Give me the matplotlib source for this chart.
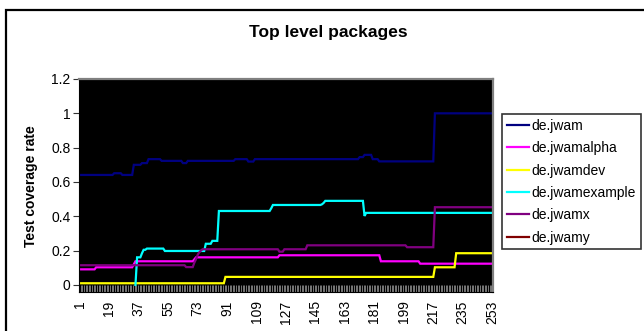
import numpy as np
import matplotlib
matplotlib.use("Agg")
import matplotlib.pyplot as plt
from matplotlib.lines import Line2D
from matplotlib.patches import Rectangle

plt.rcParams['font.family'] = ['Liberation Sans', 'DejaVu Sans']

# Number of measurement points (category axis 1..N)
N = 253

# Coverage per package, given as (first category, value) step points
jwam_steps = [(1, 0.641), (22, 0.651), (27, 0.641), (34, 0.70), (39, 0.71),
              (43, 0.733), (51, 0.723), (64, 0.71), (67, 0.723), (96, 0.733),
              (104, 0.719), (108, 0.733), (172, 0.745), (175, 0.758),
              (180, 0.733), (184, 0.72), (218, 1.0)]
jwamalpha_steps = [(1, 0.091), (11, 0.103), (34, 0.12), (35, 0.138),
                   (71, 0.15), (72, 0.161), (123, 0.173), (185, 0.138),
                   (209, 0.124)]
jwamdev_steps = [(1, 0.01), (90, 0.047), (218, 0.103), (231, 0.185)]
jwamexample_steps = [(35, 0.0), (36, 0.161), (39, 0.185), (40, 0.205),
                     (42, 0.212), (53, 0.198), (78, 0.24), (82, 0.257),
                     (86, 0.431), (118, 0.447), (119, 0.466), (149, 0.47),
                     (150, 0.478), (151, 0.49), (175, 0.402), (176, 0.42)]
jwamx_steps = [(1, 0.115), (66, 0.104), (71, 0.13), (72, 0.15), (73, 0.175),
               (74, 0.19), (75, 0.2), (76, 0.208), (123, 0.194), (126, 0.208),
               (140, 0.231), (201, 0.22), (218, 0.453)]
jwamy_steps = []

series_names = ["de.jwam", "de.jwamalpha", "de.jwamdev", "de.jwamexample",
                "de.jwamx", "de.jwamy"]
series_colors = ["#000080", "#FF00FF", "#FFFF00", "#00FFFF", "#800080",
                 "#800000"]
series_steps = [jwam_steps, jwamalpha_steps, jwamdev_steps, jwamexample_steps,
                jwamx_steps, jwamy_steps]

xtick_labels = [str(v) for v in range(1, N + 1, 18)]
ytick_values = [0, 0.2, 0.4, 0.6, 0.8, 1.0, 1.2]
ytick_labels = ["0", "0.2", "0.4", "0.6", "0.8", "1", "1.2"]


def expand(steps, n):
    """Turn (start, value) step points into one value per category."""
    out = np.full(n, np.nan)
    for k, (start, val) in enumerate(steps):
        end = steps[k + 1][0] if k + 1 < len(steps) else n + 1
        out[start - 1:end - 1] = val
    return out


cats = np.arange(1, N + 1)

fig = plt.figure(figsize=(6.44, 3.31), dpi=100)
fig.patch.set_facecolor('white')

# chart frame
fig.add_artist(Rectangle((6 / 644, -0.2), 2.0, 1.2 - 10 / 331 + 0.0,
                         transform=fig.transFigure, fill=False,
                         edgecolor='black', linewidth=1.6))

ax = fig.add_axes([79 / 644, 1 - 292 / 331, 414 / 644, 213 / 331])
ax.set_facecolor('black')

for name, color, steps in zip(series_names, series_colors, series_steps):
    ax.plot(cats, expand(steps, N), color=color, linewidth=1.6,
            solid_joinstyle='miter', label=name)

ax.set_xlim(0.5, N + 0.5)
ax.set_ylim(-0.041, 1.2)

ax.set_xticks([int(s) for s in xtick_labels])
ax.set_xticklabels(xtick_labels, rotation=90, fontsize=10)
ax.set_xticks(np.arange(0.5, N + 1, 1.0), minor=True)
ax.tick_params(axis='x', which='major', length=0, pad=6)
ax.tick_params(axis='x', which='minor', direction='in', length=5,
               width=0.6, color='#8a8a8a')

ax.set_yticks(ytick_values)
ax.set_yticklabels(ytick_labels, fontsize=10)
ax.tick_params(axis='y', which='major', direction='out', length=4,
               width=0.8, color='#333333', pad=2)

for side in ('top', 'right'):
    ax.spines[side].set_color('#808080')
    ax.spines[side].set_linewidth(1.6)
for side in ('left', 'bottom'):
    ax.spines[side].set_color('black')
    ax.spines[side].set_linewidth(0.8)

fig.text(0.51, 1 - 33 / 331, "Top level packages", ha='center', va='center',
         fontsize=12.5, fontweight='bold')
fig.text(31 / 644, 1 - 186 / 331, "Test coverage rate", ha='center',
         va='center', rotation=90, fontsize=10, fontweight='bold')

handles = [Line2D([], [], color=c, linewidth=1.6) for c in series_colors]
leg = fig.legend(handles, series_names, loc='upper left',
                 bbox_to_anchor=(502 / 644, 1 - 114 / 331),
                 frameon=True, fancybox=False, fontsize=10,
                 handlelength=1.6, handletextpad=0.2, labelspacing=0.6,
                 borderpad=0.35, borderaxespad=0)
leg.get_frame().set_edgecolor('black')
leg.get_frame().set_linewidth(1.2)

fig.savefig("out.png", dpi=100, facecolor='white')
